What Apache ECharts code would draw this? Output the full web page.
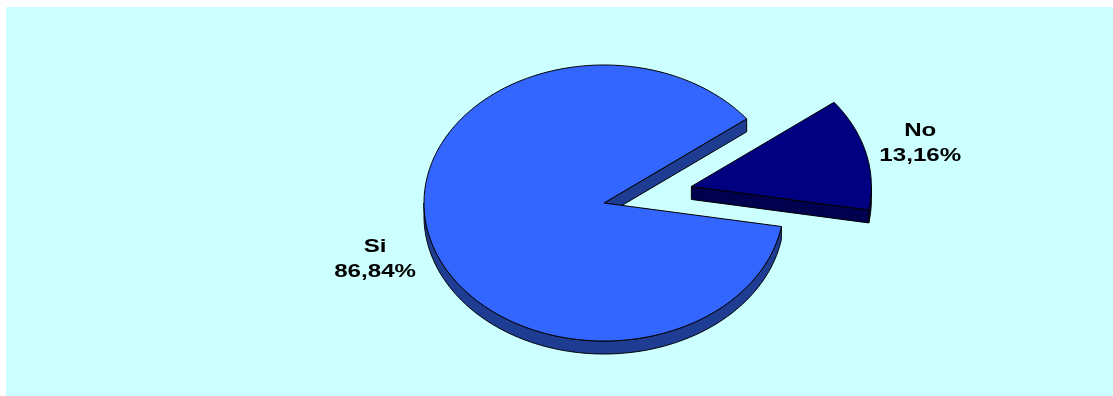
<!DOCTYPE html>
<html>
<head>
<meta charset="utf-8">
<script src="https://cdn.jsdelivr.net/npm/echarts@6/dist/echarts.min.js"></script>
<style>
  html, body { margin: 0; padding: 0; background: #ffffff; }
  #chart { width: 1113px; height: 396px; }
</style>
</head>
<body>
<div id="chart"></div>
<script>
// Answer shares (percent)
const categories = ['Si', 'No'];
const shares = [86.84, 13.16];
const topColors = ['#3366FF', '#000080'];
const sideColors = ['#1F3C93', '#00004F'];
const explodeBy = [0, 0.5];

// Tilted-pie geometry
const CX = 604, CY = 203, RX = 180, RY = 138, DEPTH = 13;
const START_ANGLE = -9.8;          // degrees, slices run clockwise from here
const LABEL_K = 1.31;
const TEXT_STRETCH = 1.27;
const RAD = Math.PI / 180;

const total = shares.reduce((a, b) => a + b, 0);

function sliceGeom(i) {
  let acc = 0;
  for (let k = 0; k < i; k++) acc += shares[k];
  const hi = START_ANGLE - acc / total * 360;
  const lo = START_ANGLE - (acc + shares[i]) / total * 360;
  const mid = (lo + hi) / 2;
  const e = explodeBy[i];
  return {
    lo, hi, mid,
    cx: CX + e * RX * Math.cos(mid * RAD),
    cy: CY - e * RY * Math.sin(mid * RAD)
  };
}

function pt(cx, cy, deg, dy) {
  return [cx + RX * Math.cos(deg * RAD), cy - RY * Math.sin(deg * RAD) + (dy || 0)];
}

function arc(cx, cy, a, b, dy) {
  const pts = [];
  const n = Math.max(2, Math.ceil(Math.abs(b - a)));
  for (let j = 0; j <= n; j++) pts.push(pt(cx, cy, a + (b - a) * j / n, dy));
  return pts;
}

const edge = { stroke: '#000000', lineWidth: 1, lineJoin: 'round' };

function renderSlice(params, api) {
  const i = params.dataIndex;
  const g = sliceGeom(i);
  const children = [];
  const sideStyle = Object.assign({ fill: sideColors[i] }, edge);

  // front rim: portions of the arc lying in the lower half of the ellipse
  for (let k = Math.floor(g.lo / 360) - 1; k <= Math.ceil(g.hi / 360) + 1; k++) {
    const s = Math.max(g.lo, 180 + 360 * k);
    const t = Math.min(g.hi, 360 + 360 * k);
    if (t > s) {
      const topArc = arc(g.cx, g.cy, s, t, 0);
      const botArc = arc(g.cx, g.cy, s, t, DEPTH).reverse();
      children.push({ type: 'polygon', z2: 1, shape: { points: topArc.concat(botArc) }, style: sideStyle });
    }
  }

  // radial cut faces that face the viewer
  const cutFace = (deg) => ({
    type: 'polygon', z2: 2,
    shape: { points: [[g.cx, g.cy], pt(g.cx, g.cy, deg, 0), pt(g.cx, g.cy, deg, DEPTH), [g.cx, g.cy + DEPTH]] },
    style: sideStyle
  });
  if (Math.cos(g.lo * RAD) > 0) children.push(cutFace(g.lo));
  if (Math.cos(g.hi * RAD) < 0) children.push(cutFace(g.hi));

  // top face
  children.push({
    type: 'polygon', z2: 10,
    shape: { points: [[g.cx, g.cy]].concat(arc(g.cx, g.cy, g.lo, g.hi, 0)) },
    style: Object.assign({ fill: topColors[i] }, edge)
  });

  // label: name and percentage
  const m = g.mid * RAD;
  let lx = g.cx + LABEL_K * RX * Math.cos(m);
  let ly = g.cy - LABEL_K * RY * Math.sin(m);
  if (Math.sin(m) < 0) ly += DEPTH;
  const pct = api.value(0).toFixed(2).replace('.', ',') + '%';
  children.push({
    type: 'text', z2: 20, x: lx, y: ly, scaleX: TEXT_STRETCH,
    style: {
      text: categories[i] + '\n' + pct,
      fill: '#000000',
      font: 'bold 19px "Liberation Sans", Arial, sans-serif',
      align: 'center', verticalAlign: 'middle', lineHeight: 25
    }
  });

  return { type: 'group', children };
}

const chart = echarts.init(document.getElementById('chart'), null, { renderer: 'canvas' });
chart.setOption({
  animation: false,
  graphic: [{
    type: 'rect', z: -10, silent: true,
    shape: { x: 6, y: 7, width: 1107, height: 389 },
    style: { fill: '#CCFFFF' }
  }],
  series: [{
    type: 'custom',
    coordinateSystem: 'none',
    silent: true,
    renderItem: renderSlice,
    data: shares.map((v, i) => ({ name: categories[i], value: v }))
  }]
});
</script>
</body>
</html>
